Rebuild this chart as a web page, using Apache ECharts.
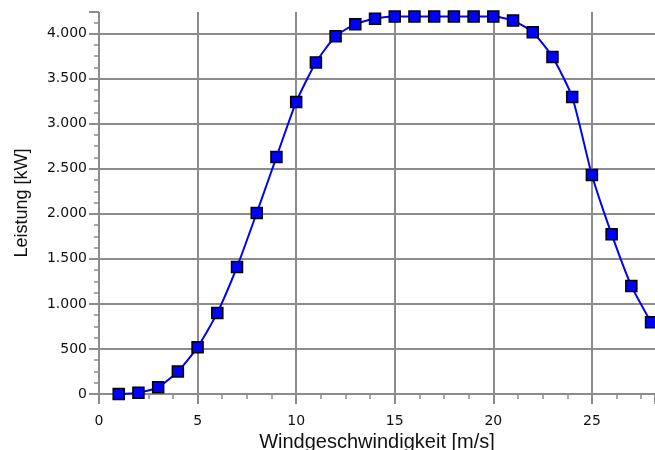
<!DOCTYPE html>
<html><head><meta charset="utf-8">
<script src="https://cdn.jsdelivr.net/npm/echarts@6/dist/echarts.min.js"></script>
<style>html,body{margin:0;padding:0;background:#fff}#c{width:655px;height:450px}</style>
</head><body><div id="c"></div>
<script>
var windSpeed = [1,2,3,4,5,6,7,8,9,10,11,12,13,14,15,16,17,18,19,20,21,22,23,24,25,26,27,28];
var power = [0,15,75,250,520,900,1410,2010,2630,3240,3680,3970,4105,4165,4190,4190,4190,4190,4190,4190,4145,4015,3740,3297,2430,1774,1200,797];
var xTitle = 'Windgeschwindigkeit [m/s]';
var yTitle = 'Leistung [kW]';

var gridColor = '#8c8c8c';
var chart = echarts.init(document.getElementById('c'), null, {renderer:'canvas'});
chart.setOption({
  animation:false,
  grid:{left:99, right:0, top:12, bottom:56, containLabel:false, outerBoundsMode:'none'},
  xAxis:{
    type:'value', min:0, max:28.2, interval:5,
    name:xTitle, nameLocation:'middle', nameGap:33,
    nameTextStyle:{fontFamily:'Liberation Sans', fontSize:20, color:'#111'},
    axisLine:{show:false},
    axisTick:{show:true, length:10, lineStyle:{color:gridColor, width:2}},
    minorTick:{show:true, splitNumber:4, length:5, lineStyle:{color:gridColor, width:1.5}},
    splitLine:{show:true, showMaxLine:false, lineStyle:{color:gridColor, width:2}},
    axisLabel:{margin:20, fontFamily:'DejaVu Sans', fontSize:14, color:'#111', showMaxLabel:false}
  },
  yAxis:{
    type:'value', min:0, max:4240, interval:500,
    name:yTitle, nameLocation:'middle', nameGap:68, nameRotate:90,
    nameTextStyle:{fontFamily:'Liberation Sans', fontSize:18, color:'#111'},
    axisLine:{show:false},
    axisTick:{show:true, length:10, lineStyle:{color:gridColor, width:2}},
    minorTick:{show:true, splitNumber:4, length:5, lineStyle:{color:gridColor, width:1.5}},
    splitLine:{show:true, showMaxLine:false, lineStyle:{color:gridColor, width:2}},
    axisLabel:{margin:12, fontFamily:'DejaVu Sans', fontSize:14, color:'#111', showMaxLabel:false,
      formatter:function(v){return String(v).replace(/\B(?=(\d{3})+(?!\d))/g,'.');}}
  },
  series:[{
    type:'line', smooth:0.2, clip:false,
    data:windSpeed.map(function(x,i){return [x,power[i]];}),
    lineStyle:{color:'#0000ff', width:2},
    symbol:'rect', symbolSize:11,
    itemStyle:{color:'#0000ff', borderColor:'#000', borderWidth:1.5}
  }]
});
</script></body></html>
